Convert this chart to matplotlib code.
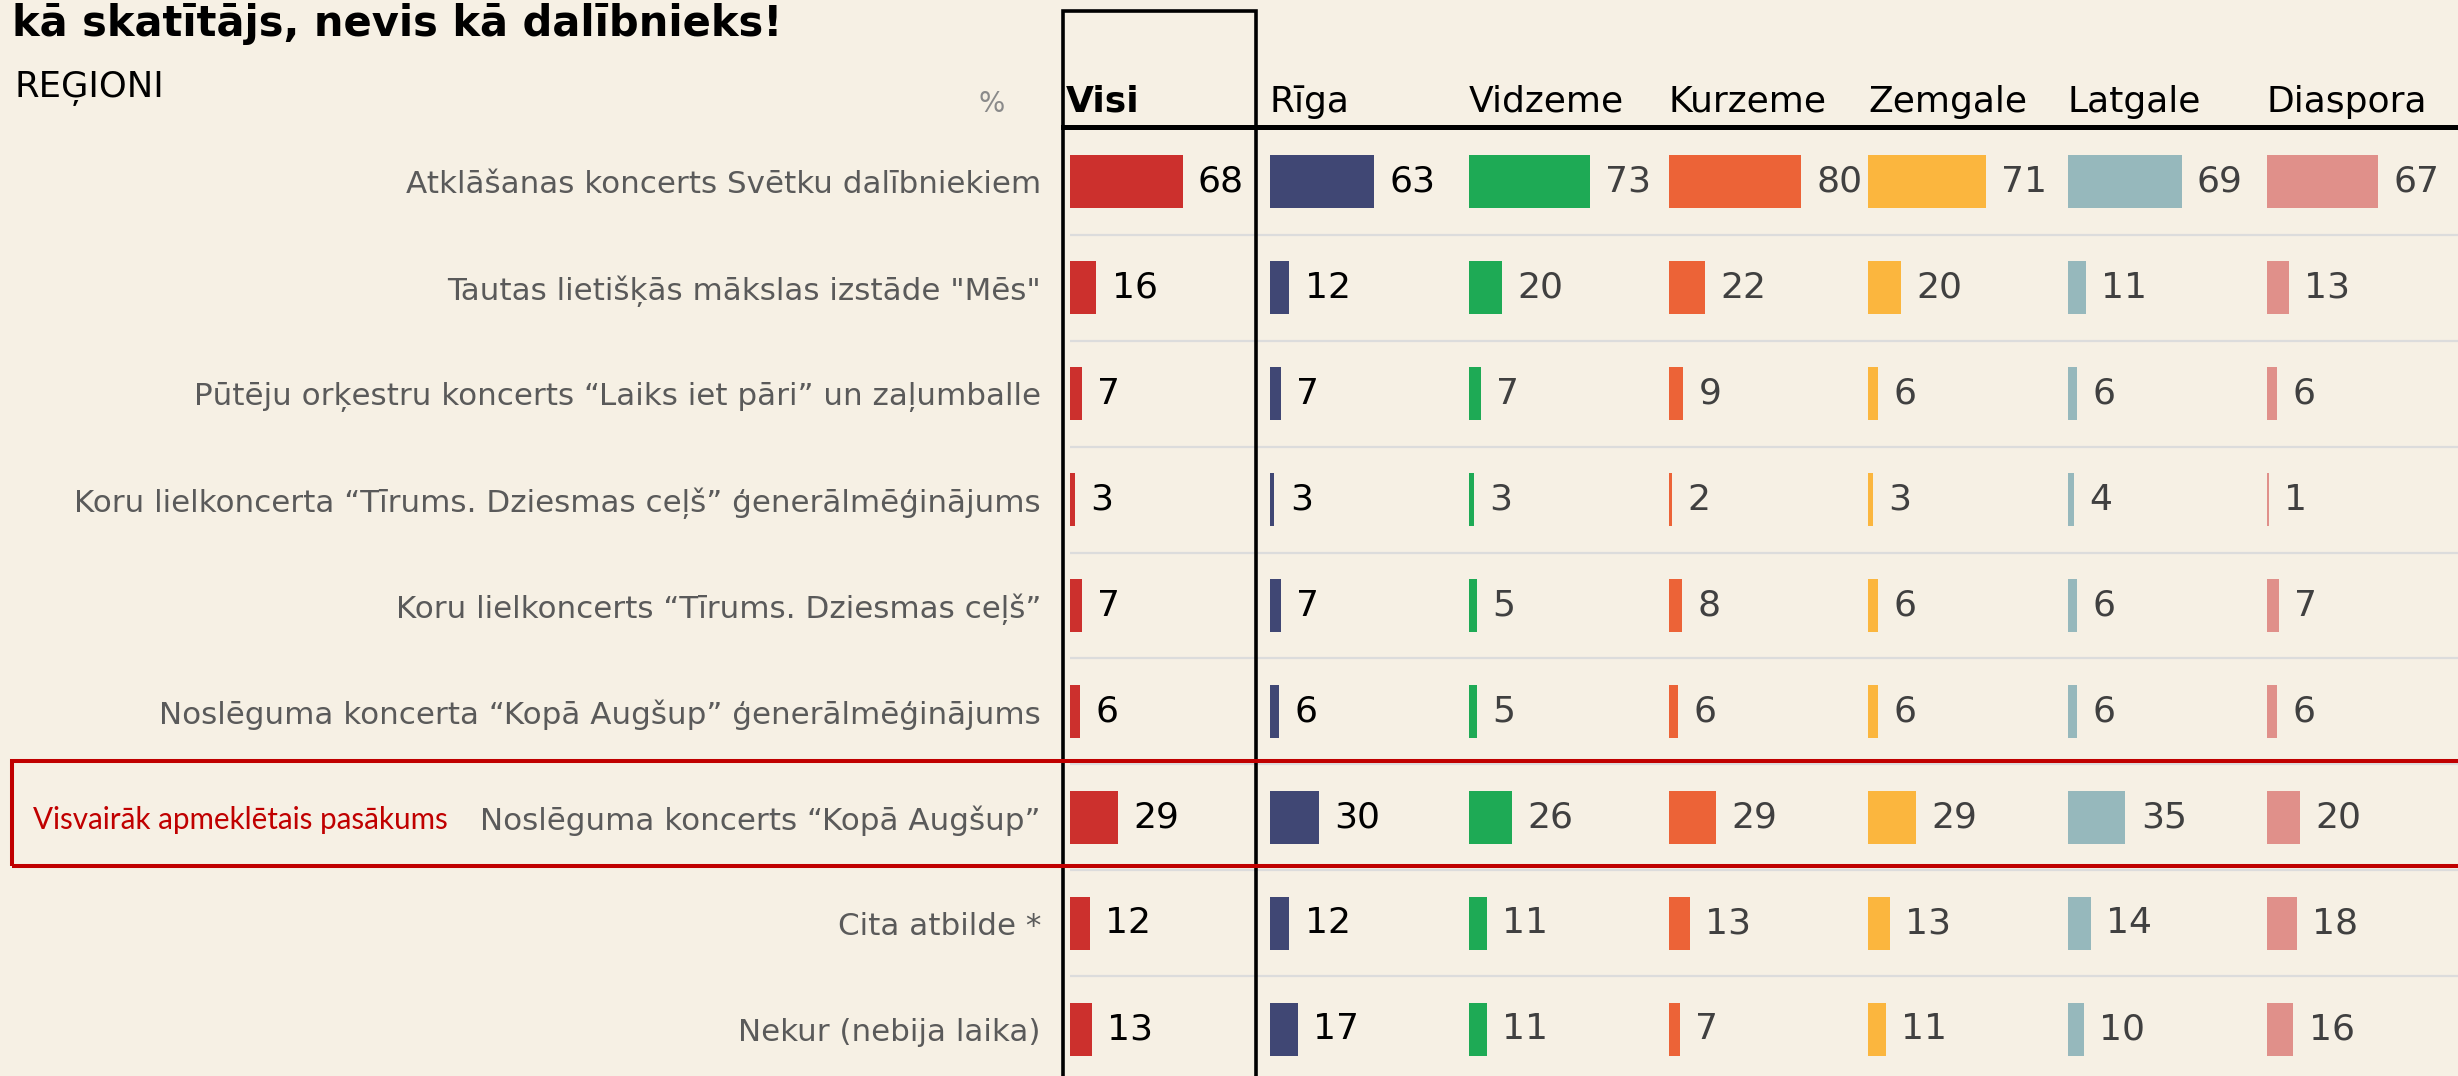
import matplotlib
matplotlib.use("Agg")
import matplotlib.pyplot as plt
from matplotlib.patches import Rectangle
from matplotlib.transforms import blended_transform_factory

# ---- data -------------------------------------------------------------
events = [
    "Atklāšanas koncerts Svētku dalībniekiem",
    'Tautas lietišķās mākslas izstāde "Mēs"',
    "Pūtēju orķestru koncerts “Laiks iet pāri” un zaļumballe",
    "Koru lielkoncerta “Tīrums. Dziesmas ceļš” ģenerālmēģinājums",
    "Koru lielkoncerts “Tīrums. Dziesmas ceļš”",
    "Noslēguma koncerta “Kopā Augšup” ģenerālmēģinājums",
    "Noslēguma koncerts “Kopā Augšup”",
    "Cita atbilde *",
    "Nekur (nebija laika)",
]
regions = ["Visi", "Rīga", "Vidzeme", "Kurzeme", "Zemgale", "Latgale", "Diaspora"]

visi     = [68, 16, 7, 3, 7, 6, 29, 12, 13]
riga     = [63, 12, 7, 3, 7, 6, 30, 12, 17]
vidzeme  = [73, 20, 7, 3, 5, 5, 26, 11, 11]
kurzeme  = [80, 22, 9, 2, 8, 6, 29, 13, 7]
zemgale  = [71, 20, 6, 3, 6, 6, 29, 13, 11]
latgale  = [69, 11, 6, 4, 6, 6, 35, 14, 10]
diaspora = [67, 13, 6, 1, 7, 6, 20, 18, 16]
series = [visi, riga, vidzeme, kurzeme, zemgale, latgale, diaspora]

colors = ["#CC302D", "#404774", "#1EAA55", "#EC6337", "#FBB63E", "#96B8BC", "#E0908A"]
label_colors = ["#000000", "#000000", "#404040", "#404040", "#404040", "#404040", "#404040"]
highlight_row = 6

title = "kā skatītājs, nevis kā dalībnieks!"
subtitle = "REĢIONI"
highlight_note = "Visvairāk apmeklētais pasākums"

# ---- layout (pixels) --------------------------------------------------
W, H = 2458, 1076
BG = "#F6F0E4"
SANS = ["DejaVu Sans"]
fx = lambda x: x / W
fy = lambda y: 1 - y / H

col_left = 1070
col_step = 199.5
px_per_pct = 1.655
row_top = 129          # top of first row band
row_h = 105.9
n_rows = len(events)

fig = plt.figure(figsize=(W / 100, H / 100), dpi=100, facecolor=BG)

axes = []
for k, (vals, col) in enumerate(zip(series, colors)):
    left = col_left + k * col_step
    ax = fig.add_axes([fx(left), fy(row_top + n_rows * row_h),
                       col_step / W, n_rows * row_h / H])
    ax.set_facecolor("none")
    bars = ax.barh(range(n_rows), vals, height=0.5, color=col, zorder=3)
    ax.bar_label(bars, padding=11, fontsize=26, color=label_colors[k],
                 family=SANS)
    for i in range(n_rows):
        ax.axhline(i + 0.5, color="#DCDCDC", lw=1.6, zorder=1)
    ax.set_xlim(0, col_step / px_per_pct)
    ax.set_ylim(n_rows - 0.5, -0.5)
    ax.axis("off")
    axes.append(ax)
    # column header
    hx = left - 4 if k == 0 else left
    fig.text(fx(hx), fy(112), regions[k], fontsize=26, color="black",
             fontweight="bold" if k == 0 else "normal", family=SANS,
             ha="left", va="baseline")

# row labels
tr = blended_transform_factory(fig.transFigure, axes[0].transData)
for i, name in enumerate(events):
    axes[0].text(fx(1041), i, name, transform=tr, ha="right",
                 va="center_baseline", fontsize=22.3, color="#5A5A5A",
                 family=SANS, clip_on=False)
axes[0].text(fx(33), highlight_row, highlight_note, transform=tr, ha="left",
             va="center_baseline", fontsize=21.3, color="#C00000",
             family=["Lato", "DejaVu Sans"], clip_on=False)

# title and subtitle
fig.text(fx(12), fy(36), title, fontsize=30, fontweight="bold", color="black",
         family=SANS, ha="left", va="baseline")
fig.text(fx(15), fy(97), subtitle, fontsize=25.5, color="black", family=SANS,
         ha="left", va="baseline")
fig.text(fx(978), fy(112), "%", fontsize=20, color="#8A8A8A", family=SANS,
         ha="left", va="baseline")

# thick header rule
fig.add_artist(plt.Line2D([fx(1063), 1.0], [fy(127), fy(127)],
                          transform=fig.transFigure, color="black", lw=3.6,
                          zorder=5))

# frame round the "Visi" column
fig.add_artist(Rectangle((fx(1063), fy(1090)), (1256 - 1063) / W,
                         (1090 - 11) / H, transform=fig.transFigure,
                         fill=False, ec="black", lw=2.6, zorder=6))

# frame round the most visited event
fig.add_artist(Rectangle((fx(12), fy(866)), (2480 - 12) / W, (866 - 761) / H,
                         transform=fig.transFigure, fill=False, ec="#C00000",
                         lw=2.9, zorder=6))

fig.savefig("out.png", dpi=100, facecolor=BG)
